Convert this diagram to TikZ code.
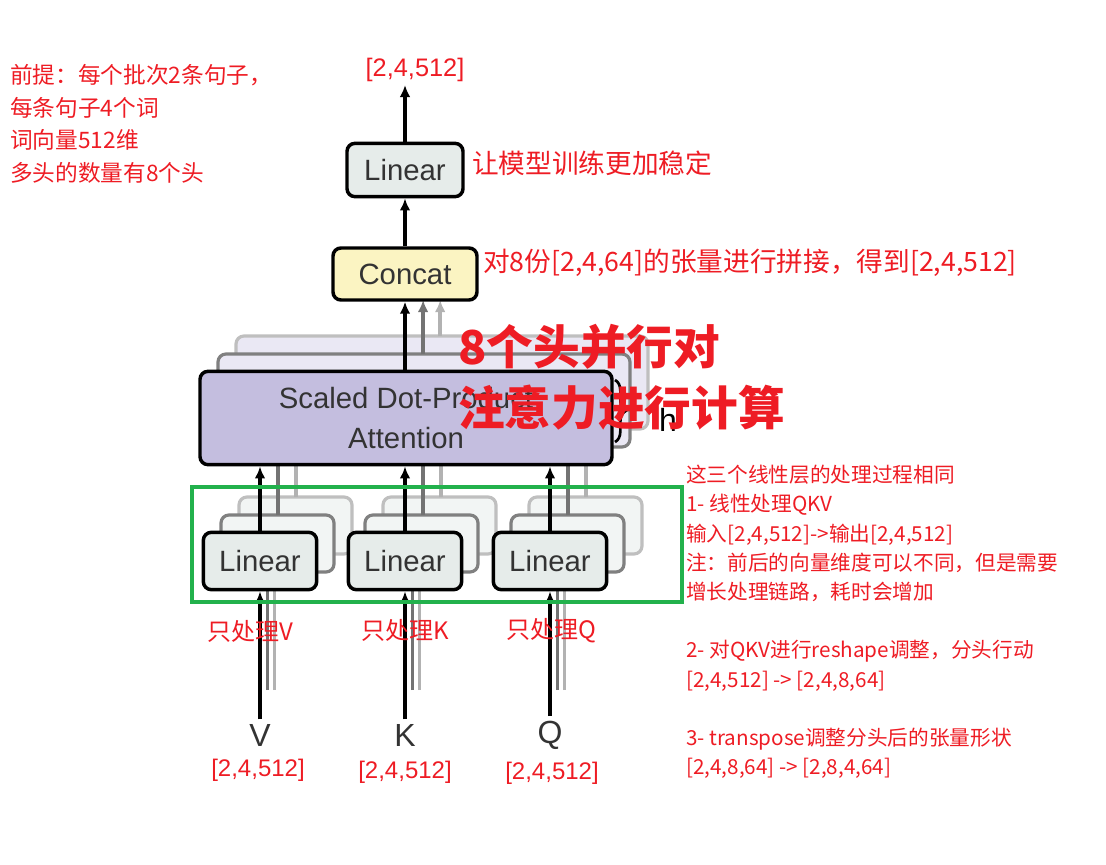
\documentclass[tikz,border=0pt]{standalone}
\usepackage{fontspec}
\setmainfont{Liberation Sans}
\newfontfamily\cjk{Noto Sans CJK SC}
\usetikzlibrary{arrows.meta,decorations.pathreplacing}
\definecolor{linfill}{HTML}{E6ECEA}
\definecolor{catfill}{HTML}{FBF4C2}
\definecolor{attfill}{HTML}{C4BEDF}
\definecolor{anno}{HTML}{EE1C24}
\definecolor{grbox}{HTML}{22B14C}
\tikzset{
  blk/.style={draw=black, line width=2.6pt, rounded corners=6pt, align=center, inner sep=0pt,
    font=\fontsize{22}{30}\selectfont, text=black!80},
  ghost/.style={draw=#1, line width=2.4pt, rounded corners=6pt, fill=white},
  flow/.style={-{Latex[length=9pt,width=8pt]}, line width=2.6pt},
  note/.style={text=anno, font=\cjk\fontsize{15.5}{21.9}\selectfont, align=left, anchor=north west, inner sep=0pt}
}
\begin{document}
\begin{tikzpicture}[x=0.75pt,y=-0.75pt]
\useasboundingbox (0,0) rectangle (1106,864);
%%% back copies of the heads
\foreach \d/\c in {36/black!25,18/black!50}{
  \filldraw[ghost=\c, fill=attfill!35] (200+\d,372-\d) rectangle (612+\d,465-\d);
  \foreach \x in {203,347,493}
    \filldraw[ghost=\c, fill=linfill!50] (\x+\d,533-\d) rectangle (\x+113+\d,590-\d);
}
% ghost arrows
\foreach \d/\c in {36/black!30,18/black!55}{
  \draw[flow, draw=\c] (406+\d*0.95,372-\d) -- (406+\d*0.95,300);
  \foreach \x in {260,405,550}{
    \draw[line width=2.4pt, draw=\c] (\x+\d*0.4,690) -- (\x+\d*0.4,590);
    \draw[line width=2.4pt, draw=\c] (\x+\d,533-\d) -- (\x+\d,465);
  }
}
% "h" brace of the heads
\draw[line width=2pt, decorate, decoration={brace, amplitude=8pt}] (615,380) -- (615,442);
\node (hlab) at (668,420) {\fontsize{24}{24}\selectfont h};
%%% main blocks
\node[blk, fill=attfill, minimum width=309pt, minimum height=70pt] (att) at (406,418) {Scaled Dot-Product\\Attention};
\node[blk, fill=catfill, minimum width=108pt, minimum height=39pt] (concat) at (405,274) {Concat};
\node[blk, fill=linfill, minimum width=87pt, minimum height=40pt] (lin) at (405,170) {Linear};
\node[blk, fill=linfill, minimum width=85pt, minimum height=43pt] (linV) at (260,561) {Linear};
\node[blk, fill=linfill, minimum width=85pt, minimum height=43pt] (linK) at (405,561) {Linear};
\node[blk, fill=linfill, minimum width=85pt, minimum height=43pt] (linQ) at (550,561) {Linear};
% inputs
\node[font=\fontsize{24}{24}\selectfont, text=black!80] (V) at (260,735) {V};
\node[font=\fontsize{24}{24}\selectfont, text=black!80] (K) at (405,735) {K};
\node[font=\fontsize{24}{24}\selectfont, text=black!80] (Q) at (550,735) {Q};
\coordinate (out) at (405,85);
% connectors
\draw[flow] (V) -- (linV);
\draw[flow] (K) -- (linK);
\draw[flow] (Q) -- (linQ);
\draw[flow] (linV) -- (linV |- att.south);
\draw[flow] (linK) -- (linK |- att.south);
\draw[flow] (linQ) -- (linQ |- att.south);
\draw[flow] (att.north -| concat) -- (concat);
\draw[flow] (concat) -- (lin);
\draw[flow] (lin) -- (out);
%%% annotations
\draw[grbox, line width=3pt] (192,487) rectangle (682,602);
\node[text=anno, font=\fontsize{19}{20}\selectfont] (shape) at (415,70) {[2,4,512]};
\node[text=anno, font=\fontsize{18}{20}\selectfont] (shapeV) at (258,770) {[2,4,512]};
\node[text=anno, font=\fontsize{18}{20}\selectfont] (shapeK) at (405,772) {[2,4,512]};
\node[text=anno, font=\fontsize{18}{20}\selectfont] (shapeQ) at (552,773) {[2,4,512]};
\node[text=anno, font=\cjk\fontsize{18}{20}\selectfont] (onlyV) at (250,631) {只处理V};
\node[text=anno, font=\cjk\fontsize{18}{20}\selectfont] (onlyK) at (405,630) {只处理K};
\node[text=anno, font=\cjk\fontsize{18}{20}\selectfont] (onlyQ) at (551,631) {只处理Q};
\node[note, font=\cjk\fontsize{17}{24.5}\selectfont] (premise) at (10,64) {前提：每个批次2条句子，\\每条句子4个词\\词向量512维\\多头的数量有8个头};
\node[note, font=\cjk\fontsize{20}{22}\selectfont, anchor=west] (stable) at (472,163) {让模型训练更加稳定};
\node[note, font=\cjk\fontsize{20}{22}\selectfont, anchor=west] (cat) at (483,263) {对8份[2,4,64]的张量进行拼接，得到[2,4,512]};
\node[note, font=\cjk\bfseries\fontsize{35}{46}\selectfont] (heads) at (458,324) {8个头并行对\\注意力进行计算};
\node[note] (steps) at (686,465) {这三个线性层的处理过程相同\\1- 线性处理QKV\\输入[2,4,512]->输出[2,4,512]\\注：前后的向量维度可以不同，但是需要\\增长处理链路，耗时会增加\\[21.9pt]2- 对QKV进行reshape调整，分头行动\\{}[2,4,512] -> [2,4,8,64]\\[21.9pt]3- transpose调整分头后的张量形状\\{}[2,4,8,64] -> [2,8,4,64]};
\end{tikzpicture}
\end{document}
